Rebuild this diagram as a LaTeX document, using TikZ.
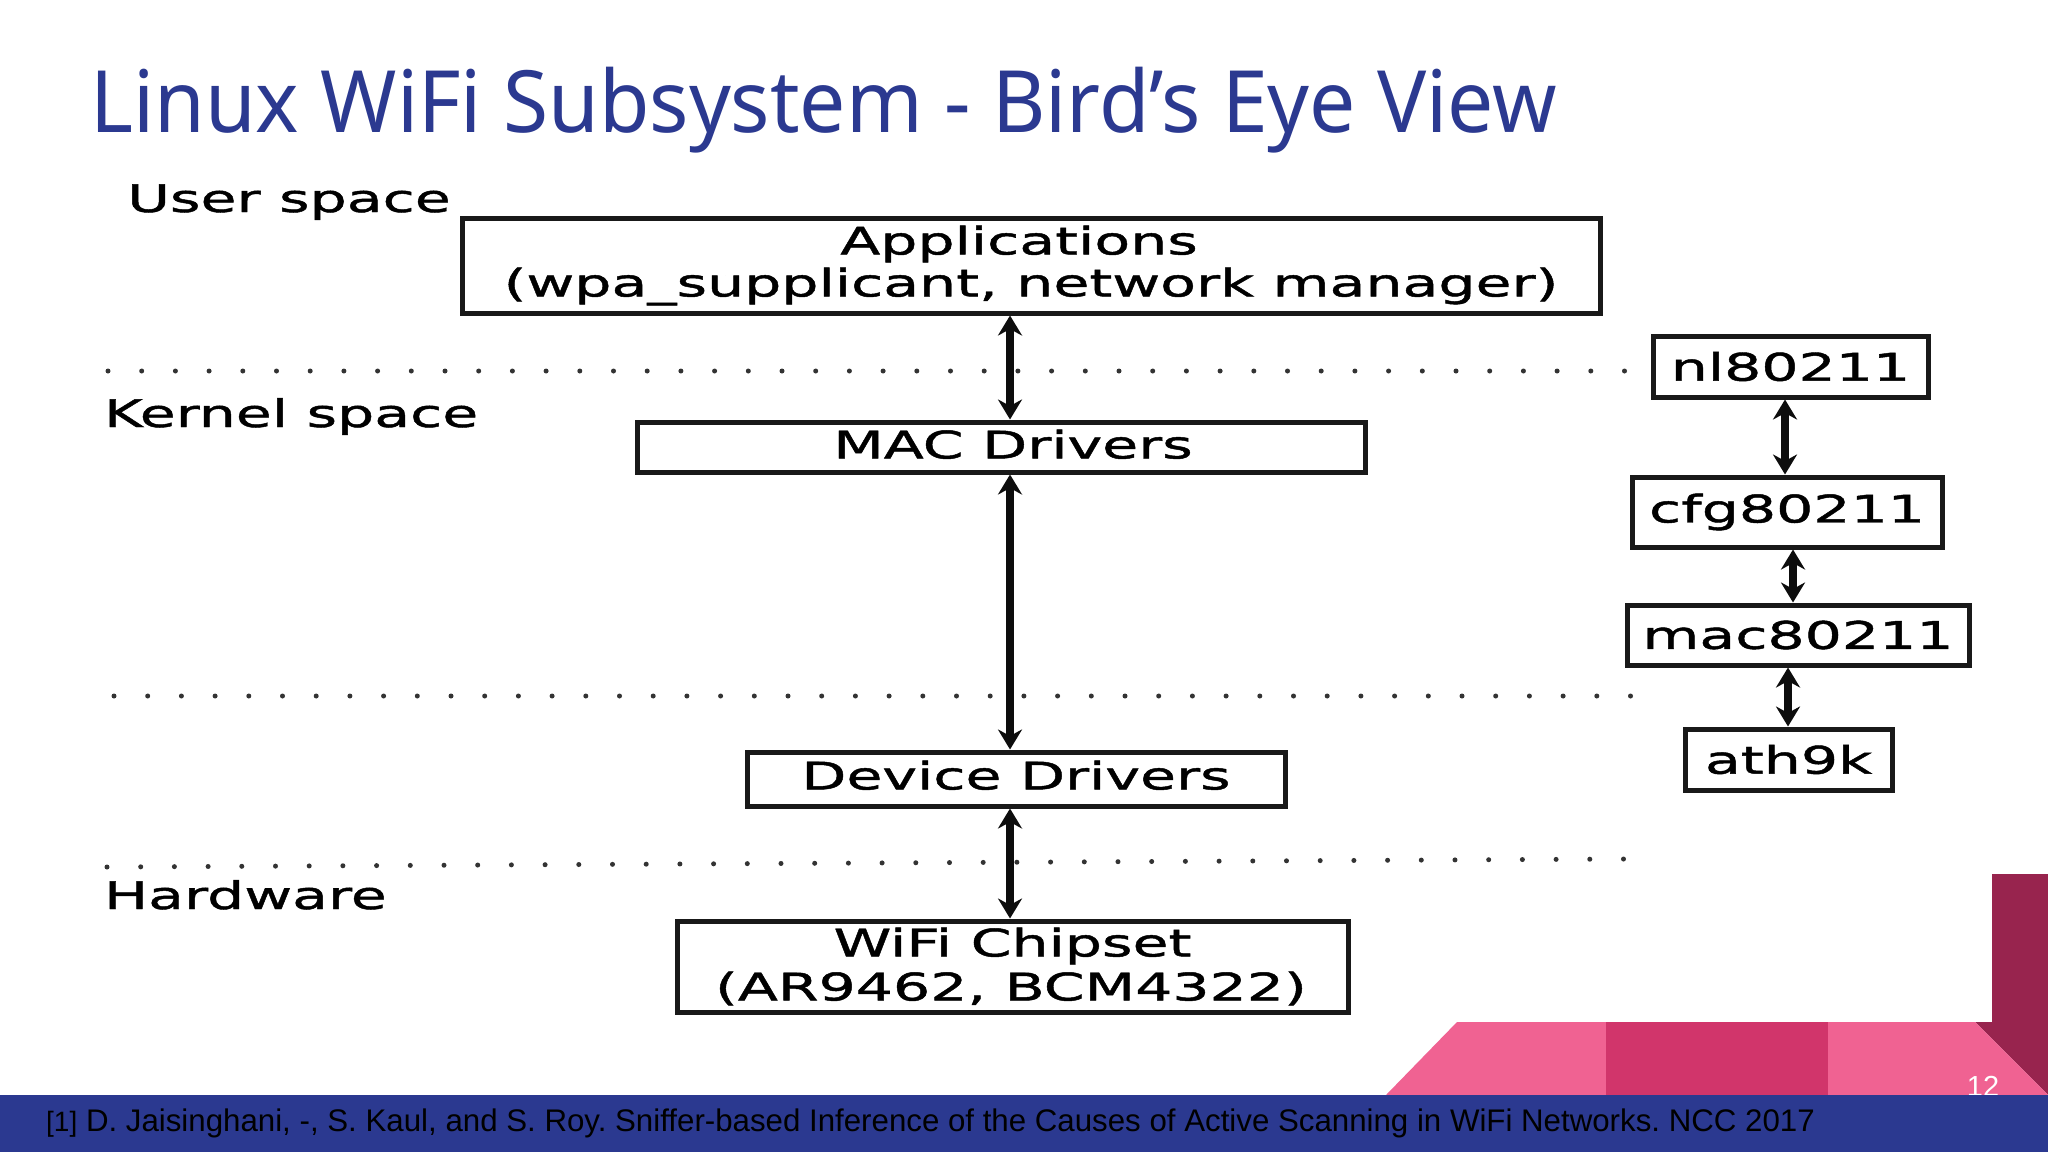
\documentclass[tikz,border=0pt]{standalone}
\usepackage{fontspec}
\usetikzlibrary{arrows.meta}
\setmainfont{Liberation Sans}
\newfontfamily\titlefont[FakeStretch=0.955]{Noto Sans}
\newfontfamily\diagfont[FakeStretch=1.54,FakeBold=1.2]{DejaVu Sans}
\definecolor{navy}{HTML}{2B3990}
\definecolor{pinkA}{HTML}{F06292}
\definecolor{pinkB}{HTML}{D1356B}
\definecolor{maroon}{HTML}{98244E}
\tikzset{
  box/.style={draw=black!90, line width=5pt, fill=white, inner sep=0pt, align=center,
    font=\diagfont\fontsize{38}{42}\selectfont},
  lbl/.style={anchor=base west, inner sep=0pt, font=\diagfont\fontsize{38}{42}\selectfont},
  link/.style={line width=7.5pt, black!95, {Stealth[length=20pt,width=24pt]}-{Stealth[length=20pt,width=24pt]}},
  sep/.style={line width=5pt, black!80, line cap=round, dash pattern=on 0pt off 33.7pt},
}
\begin{document}
\frenchspacing
\begin{tikzpicture}[x=1pt,y=-1pt]
\useasboundingbox (0,0) rectangle (2048,1152);
\fill[white] (0,0) rectangle (2048,1152);

% corner decoration
\fill[maroon] (1992,874) -- (2048,874) -- (2048,1095) -- (1975,1022) -- (1992,1022) -- cycle;
\fill[pinkA] (1386,1095) -- (1457,1022) -- (1606,1022) -- (1606,1095) -- cycle;
\fill[pinkB] (1606,1022) rectangle (1828,1095);
\fill[pinkA] (1828,1022) -- (1975,1022) -- (2048,1095) -- (1828,1095) -- cycle;
\node[anchor=base, inner sep=0pt, white, font=\fontsize{29}{29}\selectfont] (page) at (1983,1096) {12};
\fill[navy] (0,1095) rectangle (2048,1152);

% title and footer
\node[anchor=base west, inner sep=0pt, navy, font=\titlefont\fontsize{86}{90}\selectfont] (title) at (90,132) {Linux WiFi Subsystem - Bird’s Eye View};
\node[anchor=base west, inner sep=0pt, black, font=\fontsize{31.25}{34}\selectfont] (ref) at (46,1131) {{\fontsize{28}{28}\selectfont [1]} D. Jaisinghani, -, S. Kaul, and S. Roy. Sniffer-based Inference of the Causes of Active Scanning in WiFi Networks. NCC 2017};

% layer labels
\node[lbl] (user) at (127,212) {User space};
\node[lbl] (kernel) at (104,427) {Kernel space};
\node[lbl] (hw) at (104,909) {Hardware};

% dotted separators
\coordinate (s1a) at (108,371);  \coordinate (s1b) at (1626,371);
\coordinate (s2a) at (114,696);  \coordinate (s2b) at (1632,696);
\coordinate (s3a) at (107,867);  \coordinate (s3b) at (1626,859);
\draw[sep] (s1a) -- (s1b);
\draw[sep] (s2a) -- (s2b);
\draw[sep] (s3a) -- (s3b);

% left stack
\node[box, minimum width=1138pt, minimum height=95pt] (app) at (1031,265.5) {Applications\hspace*{24pt}\\(wpa\_supplicant, network manager)};
\node[box, minimum width=728pt, minimum height=50pt, text depth=6pt] (mac) at (1001,447) {\hspace*{24pt}MAC Drivers};
\node[box, minimum width=538pt, minimum height=54pt, text depth=8pt] (dev) at (1016,779) {Device Drivers};
\node[box, minimum width=671pt, minimum height=91pt] (chip) at (1012.5,966.5) {\raisebox{5pt}{WiFi Chipset}\\[-1pt]\raisebox{2pt}{(AR9462, BCM4322)}\hspace*{3pt}};

% right stack
\node[box, minimum width=275pt, minimum height=61pt] (nl) at (1790.5,366.5) {nl80211};
\node[box, minimum width=310pt, minimum height=70pt] (cfg) at (1787,512) {cfg80211};
\node[box, minimum width=342pt, minimum height=60pt] (m80) at (1798,635) {mac80211};
\node[box, minimum width=207pt, minimum height=61pt] (ath) at (1788.5,759.5) {ath9k};

% arrows
\coordinate (xl) at (1010,0);
\coordinate (x1) at (1785,0);
\coordinate (x2) at (1793,0);
\coordinate (x3) at (1788,0);
\draw[link] (app.south -| xl) -- (mac.north -| xl);
\draw[link] (mac.south -| xl) -- (dev.north -| xl);
\draw[link] (dev.south -| xl) -- (chip.north -| xl);
\draw[link] (nl.south -| x1) -- (cfg.north -| x1);
\draw[link] (cfg.south -| x2) -- (m80.north -| x2);
\draw[link] (m80.south -| x3) -- (ath.north -| x3);
\end{tikzpicture}
\end{document}
